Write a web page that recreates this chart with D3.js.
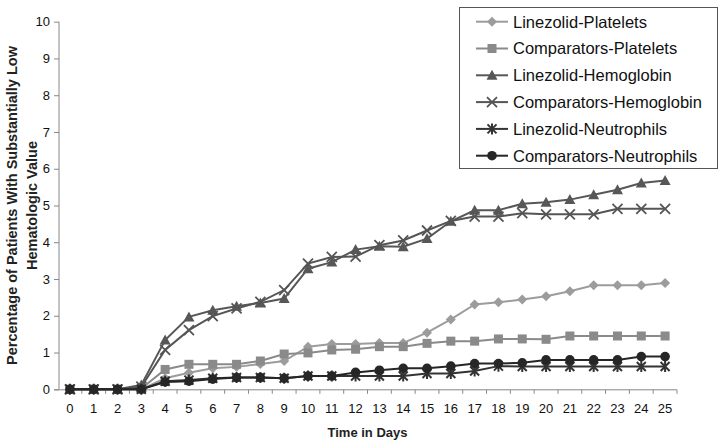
<!DOCTYPE html>
<html>
<head>
<meta charset="utf-8">
<script src="https://cdn.jsdelivr.net/npm/d3@7"></script>
<style>
  body { margin: 0; background: #fff; }
  svg { font-family: "Liberation Sans", Arial, sans-serif; }
  .axis text { font-size: 13px; fill: #111; }
  .axis line, .axis path { stroke: #888; }
</style>
</head>
<body>
<div id="chart"></div>
<script>
// Data
var days = [0, 1, 2, 3, 4, 5, 6, 7, 8, 9, 10, 11, 12, 13, 14, 15, 16, 17, 18, 19, 20, 21, 22, 23, 24, 25];
var yTicks = [0, 1, 2, 3, 4, 5, 6, 7, 8, 9, 10];
var seriesNames = ["Linezolid-Platelets", "Comparators-Platelets", "Linezolid-Hemoglobin",
  "Comparators-Hemoglobin", "Linezolid-Neutrophils", "Comparators-Neutrophils"];

var linPlt  = [0, 0, 0, 0, 0.3, 0.45, 0.57, 0.61, 0.69, 0.77, 1.16, 1.23, 1.23, 1.26, 1.26, 1.54, 1.9, 2.31, 2.37, 2.44, 2.53, 2.67, 2.83, 2.83, 2.83, 2.89];
var compPlt = [0, 0, 0, 0.02, 0.54, 0.68, 0.68, 0.68, 0.77, 0.96, 0.99, 1.07, 1.09, 1.16, 1.16, 1.25, 1.31, 1.31, 1.37, 1.37, 1.36, 1.45, 1.45, 1.45, 1.45, 1.45];
var linHgb  = [0, 0, 0, 0.12, 1.34, 1.97, 2.15, 2.26, 2.35, 2.47, 3.28, 3.46, 3.8, 3.89, 3.88, 4.1, 4.57, 4.87, 4.87, 5.05, 5.09, 5.16, 5.29, 5.43, 5.61, 5.68];
var compHgb = [0, 0, 0, 0.07, 1.07, 1.61, 1.99, 2.2, 2.38, 2.7, 3.42, 3.6, 3.61, 3.92, 4.05, 4.32, 4.58, 4.7, 4.7, 4.79, 4.76, 4.76, 4.76, 4.91, 4.91, 4.91];
var linNeu  = [0, 0, 0, 0, 0.22, 0.25, 0.3, 0.32, 0.32, 0.3, 0.36, 0.36, 0.36, 0.36, 0.36, 0.43, 0.43, 0.5, 0.63, 0.62, 0.62, 0.62, 0.62, 0.62, 0.62, 0.62];
var compNeu = [0, 0, 0, 0, 0.2, 0.22, 0.28, 0.32, 0.32, 0.3, 0.36, 0.36, 0.46, 0.52, 0.57, 0.57, 0.63, 0.7, 0.7, 0.72, 0.8, 0.8, 0.8, 0.8, 0.89, 0.89];

var seriesValues = [linPlt, compPlt, linHgb, compHgb, linNeu, compNeu];
var colors = ["#9c9c9c", "#8a8a8a", "#575757", "#555555", "#333333", "#262626"];
var markers = ["diamond", "square", "triangle", "times", "asterisk", "circle"];

// Placement
var width = 725, height = 444,
  pLeft = 58, pRight = 677, pTop = 21.7, pBottom = 389.3;

var svg = d3.select("#chart").append("svg")
  .attr("width", width)
  .attr("height", height);

var x = d3.scaleBand().domain(days).range([pLeft, pRight]);
var y = d3.scaleLinear().domain([0, 10]).range([pBottom, pTop]);
var cx = function(d) { return x(d) + x.bandwidth() / 2; };

// axes
var yAxis = svg.append("g")
  .attr("class", "axis")
  .attr("transform", "translate(" + (pLeft + 1) + ",0)")
  .call(d3.axisLeft(y).tickValues(yTicks).tickSize(5).tickPadding(4));
yAxis.select(".domain").attr("d", "M0," + pTop + "V" + pBottom);

var xAxis = svg.append("g")
  .attr("class", "axis")
  .attr("transform", "translate(0," + (pBottom + 0.5) + ")")
  .call(d3.axisBottom(x).tickSize(0).tickPadding(14));
xAxis.select(".domain").attr("d", "M" + (pLeft - 4) + ",0H" + pRight);

// tick marks between categories
xAxis.selectAll(".sep")
  .data(days)
  .enter().append("line")
  .attr("class", "sep")
  .attr("x1", function(d) { return x(d) + x.bandwidth(); })
  .attr("x2", function(d) { return x(d) + x.bandwidth(); })
  .attr("y1", 0)
  .attr("y2", 4)
  .attr("stroke", "#888");

// axis titles
svg.append("text")
  .attr("transform", "translate(17," + ((pTop + pBottom) / 2) + ")rotate(-90)")
  .attr("text-anchor", "middle")
  .style("font-size", "14.5px")
  .style("font-weight", "bold")
  .attr("fill", "#222")
  .text("Percentage of Patients With Substantially Low");
svg.append("text")
  .attr("transform", "translate(37," + ((pTop + pBottom) / 2) + ")rotate(-90)")
  .attr("text-anchor", "middle")
  .style("font-size", "14.5px")
  .style("font-weight", "bold")
  .attr("fill", "#222")
  .text("Hematologic Value");
svg.append("text")
  .attr("x", (pLeft + pRight) / 2)
  .attr("y", 437)
  .attr("text-anchor", "middle")
  .style("font-size", "13px")
  .style("font-weight", "bold")
  .attr("fill", "#222")
  .text("Time in Days");

// marker drawing
function drawMarker(g, kind, color) {
  if (kind === "diamond") {
    g.append("path").attr("d", "M0,-5L5,0L0,5L-5,0Z").attr("fill", color);
  } else if (kind === "square") {
    g.append("rect").attr("x", -4.5).attr("y", -4.5).attr("width", 9).attr("height", 9).attr("fill", color);
  } else if (kind === "triangle") {
    g.append("path").attr("d", "M0,-5.5L5.5,4.5L-5.5,4.5Z").attr("fill", color);
  } else if (kind === "times") {
    g.append("path").attr("d", "M-5,-5L5,5M-5,5L5,-5").attr("stroke", color).attr("stroke-width", 1.8).attr("fill", "none");
  } else if (kind === "asterisk") {
    g.append("path").attr("d", "M-4.5,-4.5L4.5,4.5M-4.5,4.5L4.5,-4.5M0,-5.5V5.5").attr("stroke", color).attr("stroke-width", 2).attr("fill", "none");
  } else if (kind === "circle") {
    g.append("circle").attr("r", 4.8).attr("fill", color);
  }
}

var line = d3.line()
  .x(function(d, i) { return cx(days[i]); })
  .y(function(d) { return y(d); });

// series
seriesValues.forEach(function(vals, s) {
  var gS = svg.append("g").attr("class", "series");
  gS.append("path")
    .datum(vals)
    .attr("d", line)
    .attr("fill", "none")
    .attr("stroke", colors[s])
    .attr("stroke-width", 2);
  vals.forEach(function(v, i) {
    var m = gS.append("g").attr("transform", "translate(" + cx(days[i]) + "," + y(v) + ")");
    drawMarker(m, markers[s], colors[s]);
  });
});

// legend
var legend = svg.append("g");
legend.append("rect")
  .attr("x", 459.5).attr("y", 7.5)
  .attr("width", 258).attr("height", 161)
  .attr("fill", "#fff")
  .attr("stroke", "#555")
  .attr("stroke-width", 1);

seriesNames.forEach(function(name, s) {
  var ly = 21.7 + s * 26.8;
  var row = legend.append("g");
  row.append("line")
    .attr("x1", 476).attr("x2", 508)
    .attr("y1", ly).attr("y2", ly)
    .attr("stroke", colors[s]).attr("stroke-width", 2);
  drawMarker(row.append("g").attr("transform", "translate(492," + ly + ")"), markers[s], colors[s]);
  row.append("text")
    .attr("x", 513)
    .attr("y", ly)
    .attr("dy", "0.36em")
    .style("font-size", "16.5px")
    .attr("fill", "#111")
    .text(name);
});
</script>
</body>
</html>
